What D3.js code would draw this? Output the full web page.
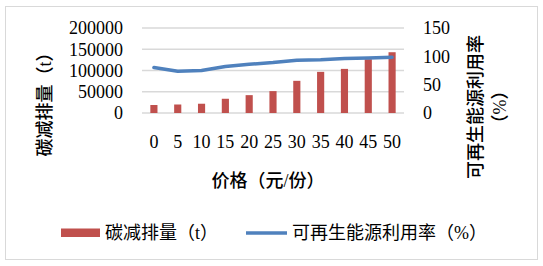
<!DOCTYPE html>
<html>
<head>
<meta charset="utf-8">
<script src="https://cdn.jsdelivr.net/npm/d3@7"></script>
<style>
  body { margin: 0; background: #fff; }
  text { font-family: "Liberation Serif", "Times New Roman", "Noto Sans CJK SC", serif; fill: #000; }
</style>
</head>
<body>
<script>
// data
var categories = [0, 5, 10, 15, 20, 25, 30, 35, 40, 45, 50];
var carbonReduction = [18800, 20000, 21800, 33500, 42000, 51500, 75700, 96800, 103800, 126600, 143000];
var renewableRate = [80.2, 73.8, 75, 82, 86, 89, 93, 94, 96, 97, 98.5];
var leftTicks = [0, 50000, 100000, 150000, 200000];
var rightTicks = [0, 50, 100, 150];

var barName = "碳减排量（t）";
var lineName = "可再生能源利用率（%）";
var xTitle = "价格（元/份）";

function init(){
    var w = 543, h = 266;
    var left = 142, right = 404, top = 28, bottom = 113;
    var fs = 18;

    var svg = d3.select("body").append("svg")
                .attr("width", w)
                .attr("height", h);

    // outer frame
    svg.append("rect")
       .attr("x", 5.5).attr("y", 6.5)
       .attr("width", 532).attr("height", 253)
       .attr("fill", "#fff")
       .attr("stroke", "#d9d9d9");

    var x = d3.scaleBand()
              .domain(categories)
              .range([left, right])
              .paddingInner(0.7)
              .paddingOuter(0.35);

    var yL = d3.scaleLinear().domain([0, 200000]).range([bottom, top]);
    var yR = d3.scaleLinear().domain([0, 150]).range([bottom, top]);

    // gridlines
    svg.append("g").selectAll("line")
       .data(leftTicks)
       .enter().append("line")
       .attr("x1", left).attr("x2", right)
       .attr("y1", function(d){ return yL(d); })
       .attr("y2", function(d){ return yL(d); })
       .attr("stroke", "#d9d9d9")
       .attr("stroke-width", 1.5);

    // axes (labels only)
    var gl = svg.append("g")
        .attr("transform", "translate(" + left + ",0)")
        .call(d3.axisLeft(yL).tickValues(leftTicks).tickSize(0).tickPadding(19).tickFormat(d3.format("d")));
    var gr = svg.append("g")
        .attr("transform", "translate(" + right + ",0)")
        .call(d3.axisRight(yR).tickValues(rightTicks).tickSize(0).tickPadding(19));
    var gb = svg.append("g")
        .attr("transform", "translate(0," + bottom + ")")
        .call(d3.axisBottom(x).tickSize(0).tickPadding(22.5));

    [gl, gr, gb].forEach(function(g){
        g.attr("font-family", null).attr("font-size", null);
        g.select(".domain").remove();
        g.selectAll("text").attr("font-size", fs);
    });

    // bars
    svg.append("g").selectAll("rect")
       .data(categories)
       .enter().append("rect")
       .attr("x", function(d){ return x(d); })
       .attr("y", function(d, i){ return yL(carbonReduction[i]); })
       .attr("width", x.bandwidth())
       .attr("height", function(d, i){ return yL(0) - yL(carbonReduction[i]); })
       .attr("fill", "#c0504d");

    // line
    var line = d3.line()
                 .x(function(d, i){ return x(categories[i]) + x.bandwidth() / 2; })
                 .y(function(d){ return yR(d); });
    svg.append("path")
       .attr("d", line(renewableRate))
       .attr("fill", "none")
       .attr("stroke", "#4f81bd")
       .attr("stroke-width", 3.5)
       .attr("stroke-linejoin", "round")
       .attr("stroke-linecap", "round");

    // axis titles
    svg.append("text")
       .attr("transform", "translate(45,100) rotate(-90)")
       .attr("text-anchor", "middle")
       .attr("dy", "0.35em")
       .attr("font-size", fs)
       .attr("font-weight", 500)
       .text(barName);

    var rt = svg.append("text")
       .attr("transform", "translate(476,107) rotate(-90)")
       .attr("text-anchor", "middle")
       .attr("font-size", fs)
       .attr("font-weight", 500);
    rt.append("tspan").attr("x", 0).attr("dy", "0.35em").text("可再生能源利用率");
    rt.append("tspan").attr("x", 0).attr("dy", 24).text("（%）");

    svg.append("text")
       .attr("x", 268).attr("y", 181)
       .attr("text-anchor", "middle")
       .attr("dy", "0.35em")
       .attr("font-size", fs)
       .attr("font-weight", 500)
       .text(xTitle);

    // legend
    var lg = svg.append("g");
    lg.append("rect")
      .attr("x", 61).attr("y", 228.5)
      .attr("width", 39).attr("height", 8.5)
      .attr("fill", "#c0504d");
    lg.append("text")
      .attr("x", 105).attr("y", 233)
      .attr("dy", "0.35em")
      .attr("font-size", fs)
      .text(barName);
    lg.append("line")
      .attr("x1", 246).attr("x2", 287)
      .attr("y1", 233).attr("y2", 233)
      .attr("stroke", "#4f81bd")
      .attr("stroke-width", 3.5);
    lg.append("text")
      .attr("x", 292).attr("y", 233)
      .attr("dy", "0.35em")
      .attr("font-size", fs)
      .text(lineName);
}
window.onload = init;
</script>
</body>
</html>
